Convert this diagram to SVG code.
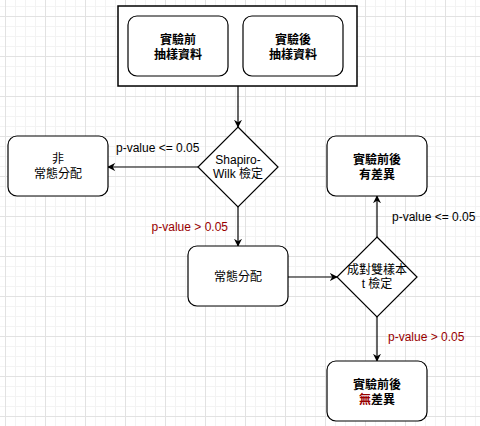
<svg xmlns="http://www.w3.org/2000/svg" width="480" height="426" viewBox="0 0 480 426">
<defs>
<pattern id="minor" x="5" y="6" width="10" height="10" patternUnits="userSpaceOnUse">
<path d="M0 0.5H10M0.5 0V10" fill="none" stroke="#f3f3f3" stroke-width="1"/>
</pattern>
<pattern id="major" x="5" y="16" width="40" height="40" patternUnits="userSpaceOnUse">
<path d="M0 0.5H40M0.5 0V40" fill="none" stroke="#e2e2e2" stroke-width="1"/>
</pattern>
<marker id="arr" viewBox="0 0 10 10" refX="9" refY="5" markerWidth="8" markerHeight="8" markerUnits="userSpaceOnUse" orient="auto">
<path d="M0 0L10 5L0 10L3 5Z" fill="#000"/>
</marker>
<style>
.box{fill:#fff;stroke:#000;stroke-width:1.2}
.t{font-family:"Liberation Sans","Noto Sans CJK TC",sans-serif;font-size:12px;fill:#000;text-anchor:middle}
.b{font-weight:bold}
.lbl{font-family:"Liberation Sans","Noto Sans CJK TC",sans-serif;font-size:12px;fill:#000}
.red{fill:#990000}
.edge{fill:none;stroke:#000;stroke-width:1.2;marker-end:url(#arr)}
</style>
</defs>
<rect width="480" height="426" fill="#fff"/>
<rect width="480" height="426" fill="url(#minor)"/>
<rect width="480" height="426" fill="url(#major)"/>

<g id="edges">
<path class="edge" d="M238 86V127"/>
<path class="edge" d="M198 167H108"/>
<path class="edge" d="M238 207V246"/>
<path class="edge" d="M288 277H337"/>
<path class="edge" d="M377 237V196"/>
<path class="edge" d="M377 317V361"/>
<text class="lbl" x="116" y="152">p-value &lt;= 0.05</text>
<text class="lbl red" x="228" y="231" text-anchor="end">p-value &gt; 0.05</text>
<text class="lbl" x="392" y="221">p-value &lt;= 0.05</text>
<text class="lbl red" x="388" y="341">p-value &gt; 0.05</text>
</g>

<g id="container">
<rect x="118" y="6" width="239" height="80" fill="#fff" stroke="#000" stroke-width="1.5"/>
</g>
<g id="before">
<rect class="box" x="128" y="16" width="100" height="60" rx="9"/>
<text class="t b" x="178" y="43.5">實驗前</text>
<text class="t b" x="178" y="58.5">抽樣資料</text>
</g>
<g id="after">
<rect class="box" x="243" y="16" width="100" height="60" rx="9"/>
<text class="t b" x="293" y="43.5">實驗後</text>
<text class="t b" x="293" y="58.5">抽樣資料</text>
</g>
<g id="shapiro">
<path class="box" d="M238 127L278 167L238 207L198 167Z"/>
<text class="t" x="238" y="163.5">Shapiro-</text>
<text class="t" x="238" y="178">Wilk 檢定</text>
</g>
<g id="nonnormal">
<rect class="box" x="8" y="136" width="100" height="60" rx="9"/>
<text class="t" x="58" y="163">非</text>
<text class="t" x="58" y="178">常態分配</text>
</g>
<g id="normal">
<rect class="box" x="188" y="246" width="100" height="60" rx="9"/>
<text class="t" x="238" y="281">常態分配</text>
</g>
<g id="ttest">
<path class="box" d="M377 237L417 277L377 317L337 277Z"/>
<text class="t" x="377" y="273.5">成對雙樣本</text>
<text class="t" x="377" y="288">t 檢定</text>
</g>
<g id="diff">
<rect class="box" x="327" y="136" width="100" height="60" rx="9"/>
<text class="t b" x="377" y="163.5">實驗前後</text>
<text class="t b" x="377" y="178.5">有差異</text>
</g>
<g id="nodiff">
<rect class="box" x="327" y="361" width="100" height="60" rx="9"/>
<text class="t b" x="377" y="388.5">實驗前後</text>
<text class="t b" x="377" y="403.5"><tspan class="red">無</tspan>差異</text>
</g>
</svg>
